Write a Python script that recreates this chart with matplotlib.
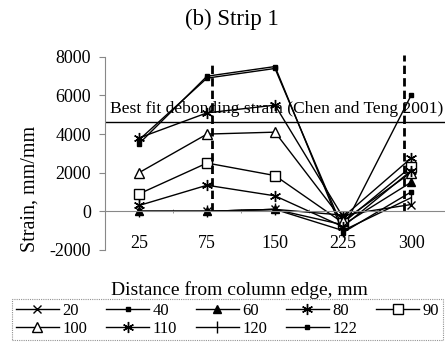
import matplotlib
matplotlib.use("Agg")
import matplotlib.pyplot as plt
import numpy as np

plt.rcParams['font.family'] = ['Liberation Serif', 'DejaVu Serif']

# distance from column edge (categories)
distances = ['25', '75', '150', '225', '300']

# strain readings per load level (kN)
s20 = [0, 0, 100, -200, 350]
s40 = [3700, 6900, 7400, -900, 6000]
s60 = [0, 0, 100, -700, 1500]
s80 = [3800, 5100, 5500, -300, 2750]
s90 = [900, 2500, 1850, -600, 2300]
s100 = [2000, 4000, 4100, -500, 2000]
s110 = [300, 1350, 800, -800, 2100]
s120 = [0, 0, 100, -1000, 700]
s122 = [3500, 7000, 7500, -1100, 1000]

loads = ['20', '40', '60', '80', '90', '100', '110', '120', '122']
series = [s20, s40, s60, s80, s90, s100, s110, s120, s122]

debond_strain = 4650

asterisk = (6, 2, 0)
styles = [
    dict(marker='x', ms=6, mfc='black'),
    dict(marker='s', ms=3, mfc='black'),
    dict(marker='^', ms=6, mfc='black'),
    dict(marker=asterisk, ms=8, mfc='black'),
    dict(marker='s', ms=7, mfc='white'),
    dict(marker='^', ms=7, mfc='white'),
    dict(marker=asterisk, ms=8, mfc='black'),
    dict(marker='|', ms=8, mfc='black'),
    dict(marker='s', ms=3, mfc='black'),
]

fig = plt.figure(figsize=(4.45, 3.49), dpi=100)
ax = fig.add_axes([0.236, 0.284, 0.764, 0.553])

x = np.arange(len(distances))
lines = []
for vals, lab, st in zip(series, loads, styles):
    ln, = ax.plot(x, vals, color='black', lw=1, mec='black', mew=1,
                  label=lab, clip_on=False, **st)
    lines.append(ln)

# debonding strain line and strip boundary lines
ax.axhline(debond_strain, color='black', lw=1)
ax.text(0.015, 5300, 'Best fit debonding strain (Chen and Teng 2001)',
        transform=ax.get_yaxis_transform(), fontsize=12.6, va='center')
ax.plot([1.07, 1.07], [0, 7700], color='black', lw=2, ls=(0, (3, 1.5)),
        clip_on=False)
ax.plot([3.9, 3.9], [0, 8100], color='black', lw=2, ls=(0, (3, 1.5)),
        clip_on=False)

ax.set_xlim(-0.5, 4.5)
ax.set_ylim(-2000, 8000)
ax.set_yticks([-2000, 0, 2000, 4000, 6000, 8000])
ax.set_yticklabels(['-2000', '0', '2000', '4000', '6000', '8000'])

ax.spines['top'].set_visible(False)
ax.spines['right'].set_visible(False)
ax.spines['left'].set_color('#888888')
ax.spines['left'].set_linewidth(0.8)
ax.spines['bottom'].set_position(('data', 0))
ax.spines['bottom'].set_color('#888888')
ax.spines['bottom'].set_linewidth(0.8)

ax.set_xticks(x)
ax.set_xticklabels(distances)
ax.tick_params(axis='x', length=0, pad=17, labelsize=13)
ax.set_xticks(np.arange(-0.5, 5, 1), minor=True)
ax.tick_params(axis='x', which='minor', length=3, direction='inout',
               color='#888888')
ax.tick_params(axis='y', length=4, color='#888888', labelsize=13, pad=6)

fig.text(0.52, 0.943, '(b) Strip 1', ha='center', va='center', fontsize=16.5)
fig.text(0.067, 0.46, 'Strain, mm/mm', rotation=90, ha='center',
         va='center', fontsize=14.5)
fig.text(0.537, 0.17, 'Distance from column edge, mm', ha='center',
         va='center', fontsize=14)

# row-major order like the original legend
order = [0, 5, 1, 6, 2, 7, 3, 8, 4]
leg = fig.legend([lines[i] for i in order], [loads[i] for i in order],
                 loc='upper left', bbox_to_anchor=(0.027, 0.009, 0.968, 0.134),
                 mode='expand', ncol=5, fontsize=12, frameon=True,
                 fancybox=False, handlelength=2.6, handletextpad=0.2,
                 borderpad=0.22, labelspacing=0.12, columnspacing=0.8,
                 borderaxespad=0)
leg.get_frame().set_edgecolor('#777777')
leg.get_frame().set_linewidth(0.8)
leg.get_frame().set_linestyle((0, (1, 1)))

fig.savefig('out.png', dpi=100)
